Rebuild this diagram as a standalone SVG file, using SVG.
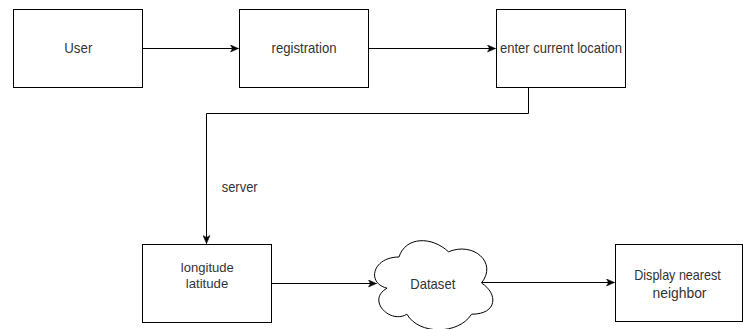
<svg xmlns="http://www.w3.org/2000/svg" width="743" height="329" viewBox="0 0 743 329">
<style>
.box{fill:#fff;stroke:#000;stroke-width:1}
.edge{fill:none;stroke:#000;stroke-width:1}
text{font-family:"Liberation Sans",Arial,Helvetica,sans-serif;font-size:15px;fill:#333;text-anchor:middle}
.sm{font-size:13.5px}
</style>
<defs>
<marker id="arr" markerUnits="userSpaceOnUse" markerWidth="10" markerHeight="8" viewBox="0 0 10 8" refX="9" refY="4" orient="auto">
<path d="M1,0.5 L9,4 L1,7.5 L3,4 Z" fill="#000" stroke="#000" stroke-width="0.5"/>
</marker>
</defs>
<rect width="743" height="329" fill="#fff"/>
<g id="connectors">
<path class="edge" d="M142.5,48.5 H238.5" marker-end="url(#arr)"/>
<path class="edge" d="M368.5,48.5 H495.5" marker-end="url(#arr)"/>
<path class="edge" d="M528.5,87.5 V113.5 H206.5 V243.5" marker-end="url(#arr)"/>
<path class="edge" d="M271.5,283.5 H376.5" marker-end="url(#arr)"/>
<path class="edge" d="M481.5,282.5 H614.5" marker-end="url(#arr)"/>
<text x="239.7" y="191.5" textLength="36" lengthAdjust="spacingAndGlyphs">server</text>
</g>
<g id="user">
<rect class="box" x="13.5" y="9.5" width="129" height="78"/>
<text x="78.3" y="53.4" textLength="28" lengthAdjust="spacingAndGlyphs">User</text>
</g>
<g id="registration">
<rect class="box" x="239.5" y="9.5" width="129" height="78"/>
<text x="304" y="53.4" textLength="65" lengthAdjust="spacingAndGlyphs">registration</text>
</g>
<g id="location">
<rect class="box" x="496.5" y="9.5" width="129" height="78"/>
<text x="561" y="53.4" textLength="122" lengthAdjust="spacingAndGlyphs">enter current location</text>
</g>
<g id="longlat">
<rect class="box" x="142.5" y="244.5" width="129" height="78"/>
<text class="sm" x="207.3" y="271.8" textLength="53" lengthAdjust="spacingAndGlyphs">longitude</text>
<text class="sm" x="207" y="288" textLength="42.5" lengthAdjust="spacingAndGlyphs">latitude</text>
</g>
<g id="dataset">
<path class="box" d="M399,257 C372.6,257 366,283 387.1,288.2 C366,299.6 389.8,324.6 406.9,314.2 C418.8,335 458.4,335 471.6,314.2 C498,314.2 498,293.4 481.5,283 C498,262.2 472.9,241.4 448.5,251.8 C432,236.2 405.6,236.2 399,257 Z"/>
<text x="432.8" y="288.5" textLength="45" lengthAdjust="spacingAndGlyphs">Dataset</text>
</g>
<g id="display">
<rect class="box" x="615.5" y="244.5" width="127" height="77"/>
<text x="677.5" y="280.3" textLength="86.5" lengthAdjust="spacingAndGlyphs">Display nearest</text>
<text x="679.5" y="297.8" textLength="54" lengthAdjust="spacingAndGlyphs">neighbor</text>
</g>
</svg>
